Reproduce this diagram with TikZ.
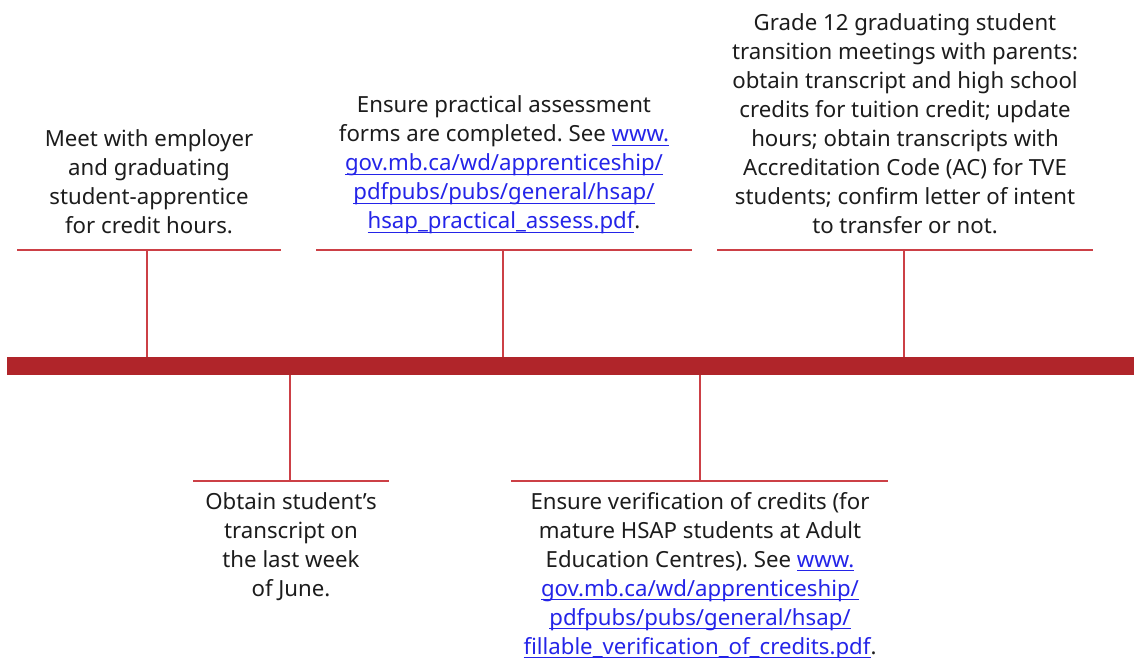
\documentclass[tikz,border=0pt]{standalone}
\usepackage{fontspec}
\setmainfont{Noto Sans}
\frenchspacing
\definecolor{barred}{RGB}{176,37,42}
\definecolor{tickred}{RGB}{204,64,70}
\definecolor{linkblue}{RGB}{36,36,232}
\definecolor{txtgray}{RGB}{28,28,28}
\newsavebox{\lnkbox}
\newcommand{\lnk}[1]{\textcolor{linkblue}{\sbox{\lnkbox}{#1}\rlap{\rule[-2.9pt]{\wd\lnkbox}{0.6pt}}\usebox{\lnkbox}}}
\begin{document}
\begin{tikzpicture}[x=0.025cm, y=-0.025cm, line join=round]
	\tikzset{txt/.style={text=txtgray, align=center, inner sep=0pt, font=\fontsize{15.8}{20.6}\selectfont},
		rule/.style={draw=tickred, line width=0.9pt},
		bar/.style={fill=barred, inner sep=0pt, minimum width=1127*0.025cm, minimum height=18*0.025cm}}
	\useasboundingbox (0,0) rectangle (1134,658);
	% the time line
	\node[bar] (bar) at (570.5,366) {};
	% above the bar
	\node[txt, anchor=south] (meet) at (149,234) {Meet with employer\\and graduating\\student-apprentice\\for credit hours.};
	\node[txt, anchor=south] (forms) at (504,234) {Ensure practical assessment\\forms are completed. See \lnk{www.}\\\lnk{gov.mb.ca/wd/apprenticeship/}\\\lnk{pdfpubs/pubs/general/hsap/}\\\lnk{hsap\_practical\_assess.pdf}.};
	\node[txt, anchor=south] (grade) at (905,234) {Grade 12 graduating student\\transition meetings with parents:\\obtain transcript and high school\\credits for tuition credit; update\\hours; obtain transcripts with\\Accreditation Code (AC) for TVE\\students; confirm letter of intent\\to transfer or not.};
	\coordinate (r1) at (147,250);
	\coordinate (r2) at (503,250);
	\coordinate (r3) at (904,250);
	\draw[rule] (17,250) -- (281,250) (316,250) -- (692,250) (717,250) -- (1093,250);
	\draw[rule] (r1) -- (r1 |- bar.north) (r2) -- (r2 |- bar.north) (r3) -- (r3 |- bar.north);
	% below the bar
	\node[txt, anchor=north] (june) at (291,492) {Obtain student's\\transcript on\\the last week\\of June.};
	\node[txt, anchor=north] (verif) at (700,492) {Ensure verification of credits (for\\mature HSAP students at Adult\\Education Centres). See \lnk{www.}\\\lnk{gov.mb.ca/wd/apprenticeship/}\\\lnk{pdfpubs/pubs/general/hsap/}\\\lnk{fillable\_verification\_of\_credits.pdf}.};
	\coordinate (r4) at (290,481);
	\coordinate (r5) at (700,481);
	\draw[rule] (193,481) -- (389,481) (511,481) -- (888,481);
	\draw[rule] (r4) -- (r4 |- bar.south) (r5) -- (r5 |- bar.south);
\end{tikzpicture}
\end{document}
